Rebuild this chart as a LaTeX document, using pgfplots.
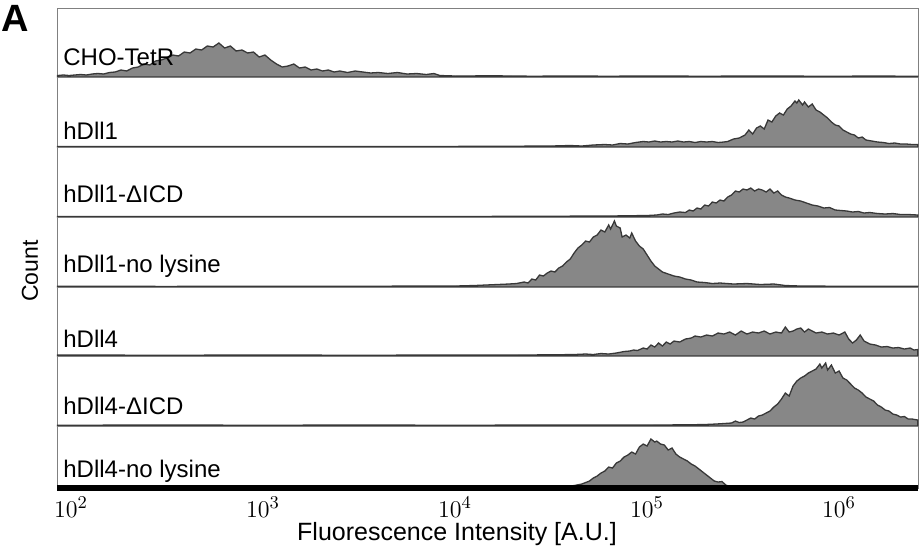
\documentclass[border=0pt]{standalone}
\usepackage{pgfplots}
\pgfplotsset{compat=1.18}
\usepgfplotslibrary{groupplots}
\usepackage{fontspec}
\setmainfont{Liberation Sans}
\newcommand{\lab}{\fontsize{12}{13}\selectfont}
\pgfplotsset{hist/.style={draw=black!78, fill=black!47, line width=0.65pt, mark=none}}
\begin{document}
\begin{tikzpicture}
\begin{groupplot}[
  group style={group size=1 by 7, vertical sep=0pt},
  scale only axis, width=430.5pt,
  xmin=1.927, xmax=6.411, ymin=0,
  xtick=\empty, ytick=\empty,
  axis line style={black!50, line width=0.5pt},
  clip=false,
]
% CHO-TetR
\nextgroupplot[height=34.5pt, ymax=69]
\addplot[hist] table {
1.93 1.5
1.96 2
1.99 1.5
2.02 2
2.05 2.5
2.08 2
2.11 3
2.14 3.5
2.17 3
2.20 4.5
2.23 5
2.26 7
2.29 6
2.32 9
2.35 10
2.38 13
2.41 12
2.44 16
2.47 17
2.50 19
2.53 22
2.56 21
2.59 25
2.62 24
2.65 28
2.68 27
2.71 31
2.74 30
2.77 34
2.80 29
2.83 31
2.86 26
2.89 27
2.92 24
2.95 25
2.98 20
3.01 22
3.04 17
3.07 13
3.10 10
3.13 11
3.16 13
3.19 9
3.22 10
3.25 7
3.28 8
3.31 6
3.34 7
3.37 5
3.40 6
3.44 4.5
3.48 6
3.52 5
3.56 4
3.60 4.5
3.65 3.5
3.70 4.5
3.75 3
3.80 3.5
3.85 2.5
3.89 3.5
3.92 1.5
4.00 1
4.20 1.2
4.40 0.8
4.60 1
4.80 0.8
5.00 1
5.30 0.8
5.60 1
5.90 0.8
6.20 0.9
6.41 0.8
} \closedcycle;
% hDll1
\nextgroupplot[height=35pt, ymax=70]
\addplot[hist] table {
1.93 0.5
2.50 0.5
3.00 0.6
3.50 0.5
4.00 0.6
4.30 0.8
4.50 1
4.60 1.5
4.66 1
4.72 2
4.78 2.5
4.82 2
4.86 3.5
4.90 3
4.94 4.5
4.98 5.5
5.01 5
5.04 6
5.07 5
5.10 5.5
5.13 5
5.16 6
5.19 5
5.22 5.5
5.25 4.5
5.28 5.5
5.31 5
5.34 5.5
5.37 4.5
5.40 5
5.42 5.5
5.45 8
5.48 9
5.51 12
5.53 17
5.55 13
5.57 19
5.59 21
5.61 18
5.63 27
5.65 25
5.67 31
5.69 34
5.71 32
5.73 38
5.75 41
5.77 46
5.78 44
5.79 47
5.81 42
5.82 45
5.84 40
5.86 43
5.88 37
5.90 35
5.92 32
5.94 29
5.96 25
5.98 22
6.00 21
6.02 17
6.04 15
6.06 13
6.08 12
6.10 9
6.12 10
6.14 7
6.17 6
6.20 5
6.23 4.5
6.26 3.5
6.29 4
6.32 3
6.35 3
6.38 2.5
6.41 2.5
} \closedcycle;
% hDll1-dICD
\nextgroupplot[height=35pt, ymax=70]
\addplot[hist] table {
1.93 0.5
2.50 0.6
3.00 0.5
3.50 0.6
4.00 0.5
4.50 0.8
4.80 1
5.00 1.5
5.05 2
5.08 3
5.11 2.5
5.14 4
5.17 5
5.20 4.5
5.22 7
5.24 6
5.26 9
5.28 8
5.30 12
5.32 11
5.34 15
5.36 14
5.38 17
5.40 16
5.42 20
5.44 22
5.46 26
5.48 25
5.50 28
5.52 27
5.54 29
5.56 26
5.58 28
5.60 27
5.62 25
5.64 28
5.66 24
5.68 26
5.70 22
5.72 20
5.74 19
5.77 17
5.80 16
5.83 14
5.86 12
5.89 11
5.92 9
5.95 9.5
5.98 7
6.01 6.5
6.04 6
6.07 5
6.10 5.5
6.13 4
6.16 4.5
6.20 3.5
6.24 3
6.28 3.5
6.32 2.5
6.36 2.5
6.41 2
} \closedcycle;
% hDll1-no lysine
\nextgroupplot[height=35pt, ymax=70]
\addplot[hist] table {
1.93 0.8
2.50 0.6
3.00 0.8
3.50 0.7
3.80 1
4.00 1
4.10 1.5
4.16 2
4.22 2.5
4.28 3
4.32 3.5
4.36 5
4.38 4
4.40 8
4.42 7
4.44 12
4.46 11
4.48 14
4.50 16
4.52 15
4.54 19
4.56 21
4.58 25
4.60 28
4.62 34
4.64 39
4.66 42
4.68 46
4.70 45
4.72 50
4.74 52
4.76 57
4.78 55
4.80 62
4.81 58
4.83 66
4.84 61
4.86 59
4.87 50
4.89 52
4.91 49
4.92 54
4.94 46
4.96 41
4.98 38
5.00 32
5.02 26
5.04 21
5.06 18
5.08 15
5.11 13
5.14 11
5.17 10
5.20 8
5.23 7
5.26 5
5.30 4.5
5.34 3.5
5.38 4
5.45 3
5.52 3.5
5.59 2.5
5.66 3
5.72 1.5
5.80 1
6.00 0.8
6.41 0.7
} \closedcycle;
% hDll4
\nextgroupplot[height=34.5pt, ymax=69]
\addplot[hist] table {
1.93 1
2.50 0.8
3.00 1
3.50 0.8
4.00 1
4.30 1
4.50 1.2
4.62 1.5
4.68 2
4.72 1.5
4.76 2.5
4.80 2
4.84 3
4.88 4.5
4.91 5
4.93 6
4.95 5.5
4.98 8
5.00 7
5.02 11
5.04 9
5.06 13
5.08 10
5.10 14
5.12 12
5.14 15
5.17 14
5.20 17
5.23 18
5.25 20
5.28 19
5.31 21
5.34 20
5.37 23
5.40 22
5.43 24
5.46 21
5.49 25
5.52 22
5.55 24
5.58 23
5.61 25
5.64 22
5.67 24
5.70 23
5.72 29
5.74 24
5.76 25
5.78 27
5.80 28
5.82 24
5.84 27
5.86 25
5.88 23
5.91 24
5.94 22
5.97 23
6.00 21
6.03 24
6.05 17
6.07 13
6.09 16
6.11 21
6.13 15
6.16 12
6.19 11
6.22 9
6.25 9.5
6.28 8
6.31 8.5
6.34 7
6.37 8
6.39 6
6.41 6.5
} \closedcycle;
% hDll4-dICD
\nextgroupplot[height=35pt, ymax=70]
\addplot[hist] table {
1.93 0.8
2.50 1
3.00 0.8
3.50 1
4.00 0.8
4.50 1
5.00 1
5.20 1.2
5.30 1.5
5.36 2
5.40 2.5
5.44 3
5.46 5
5.48 3.5
5.50 4
5.52 6
5.54 8
5.56 7
5.58 10
5.60 11
5.62 13
5.64 15
5.66 19
5.68 22
5.70 27
5.72 33
5.74 30
5.76 40
5.78 45
5.80 48
5.82 50
5.84 53
5.86 55
5.88 57
5.90 62
5.91 58
5.93 63
5.94 56
5.96 61
5.98 53
6.00 55
6.02 48
6.04 46
6.06 42
6.08 38
6.10 36
6.12 33
6.14 29
6.16 27
6.18 25
6.20 21
6.22 19
6.24 16
6.26 15
6.28 12
6.30 11
6.32 9
6.34 9.5
6.36 7
6.38 7
6.41 6
} \closedcycle;
% hDll4-no lysine
\nextgroupplot[height=31pt, ymax=62,
  xtick={2,3,4,5,6}, xticklabels={$10^2$,$10^3$,$10^4$,$10^5$,$10^6$},
  major tick length=0pt,
  xticklabel style={font=\fontsize{12.5}{13}\selectfont, yshift=-1pt},
]
\addplot[hist] table {
1.93 0
4.50 0
4.58 1
4.62 2.5
4.66 4
4.70 7
4.72 10
4.74 12
4.76 15
4.78 17
4.80 21
4.82 20
4.84 25
4.86 27
4.88 31
4.90 33
4.92 36
4.94 34
4.96 41
4.98 44
5.00 42
5.02 49
5.04 46
5.05 47
5.07 44
5.09 43
5.11 38
5.13 40
5.15 34
5.17 31
5.19 29
5.21 27
5.23 24
5.25 22
5.27 19
5.29 16
5.31 13
5.33 10
5.35 7
5.37 6
5.39 6.5
5.41 3
5.44 1
5.50 0
6.41 0
} \closedcycle;
\draw[line width=2.8pt, black] (rel axis cs:0,0) -- (rel axis cs:1,0);
\end{groupplot}
\begin{scope}[every node/.style={anchor=base west, inner sep=0pt, font=\lab}]
\node at ([shift={(3pt,5.7pt)}]group c1r1.south west) {CHO-TetR};
\node at ([shift={(3pt,3.8pt)}]group c1r2.south west) {hDll1};
\node at ([shift={(3pt,7.3pt)}]group c1r3.south west) {hDll1-ΔICD};
\node at ([shift={(3pt,7.5pt)}]group c1r4.south west) {hDll1-no lysine};
\node at ([shift={(3pt,4.3pt)}]group c1r5.south west) {hDll4};
\node at ([shift={(3pt,6pt)}]group c1r6.south west) {hDll4-ΔICD};
\node at ([shift={(3pt,5.3pt)}]group c1r7.south west) {hDll4-no lysine};
\end{scope}
\node[font=\fontsize{19}{19}\selectfont\bfseries] at ([shift={(-21pt,-5.25pt)}]group c1r1.north west) {A};
\node[rotate=90, font=\fontsize{11.5}{13}\selectfont] at ([shift={(-13.5pt,-131.5pt)}]group c1r1.north west) {Count};
\node[anchor=base, font=\fontsize{12.5}{14}\selectfont] at ([shift={(200pt,-266pt)}]group c1r1.north west) {Fluorescence Intensity [A.U.]};
\pgfresetboundingbox
\path[use as bounding box] ([shift={(-28.5pt,4pt)}]group c1r1.north west) rectangle ([shift={(431.5pt,-272pt)}]group c1r1.north west);
\end{tikzpicture}
\end{document}
